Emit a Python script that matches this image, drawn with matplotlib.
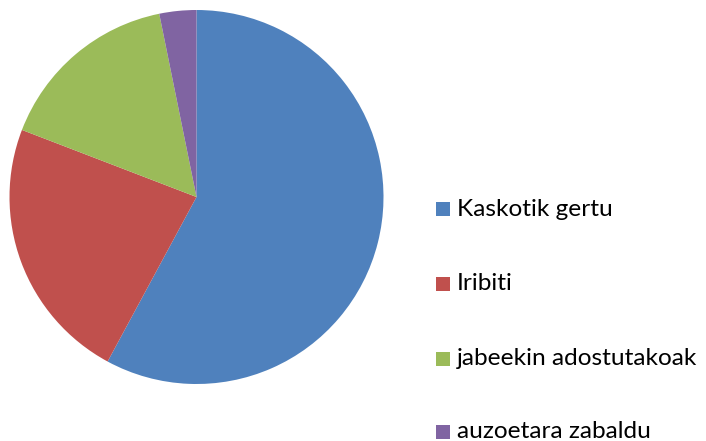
import matplotlib.pyplot as plt
from matplotlib.patches import Rectangle

labels = ['Kaskotik gertu', 'Iribiti', 'jabeekin adostutakoak', 'auzoetara zabaldu']
values = [58, 23, 16, 3.2]
colors = ['#4F81BD', '#C0504D', '#9BBB59', '#8064A2']

W, H = 706, 441
fig = plt.figure(figsize=(W / 100, H / 100), dpi=100)

# pie: centre ~(196.5, 197) px, radius ~187 px
cx, cy, r = 196.5, 197, 187
ax = fig.add_axes([(cx - r) / W, (H - cy - r) / H, 2 * r / W, 2 * r / H])
ax.pie(values, colors=colors, startangle=90, counterclock=False, radius=1)
ax.set_xlim(-1, 1)
ax.set_ylim(-1, 1)
ax.set_aspect('equal')
ax.axis('off')

# legend drawn by hand, one row every ~74 px
row_y = [209.5, 284, 358.5, 432]
for lab, col, y in zip(labels, colors, row_y):
    fig.patches.append(Rectangle((436 / W, (H - y - 7) / H), 14 / W, 14 / H,
                                 transform=fig.transFigure, facecolor=col,
                                 edgecolor='none'))
    fig.text(457 / W, (H - y) / H, lab, fontsize=17.6, family='Lato',
             va='center', ha='left', color='#000000')

fig.savefig('out.png', dpi=100)
